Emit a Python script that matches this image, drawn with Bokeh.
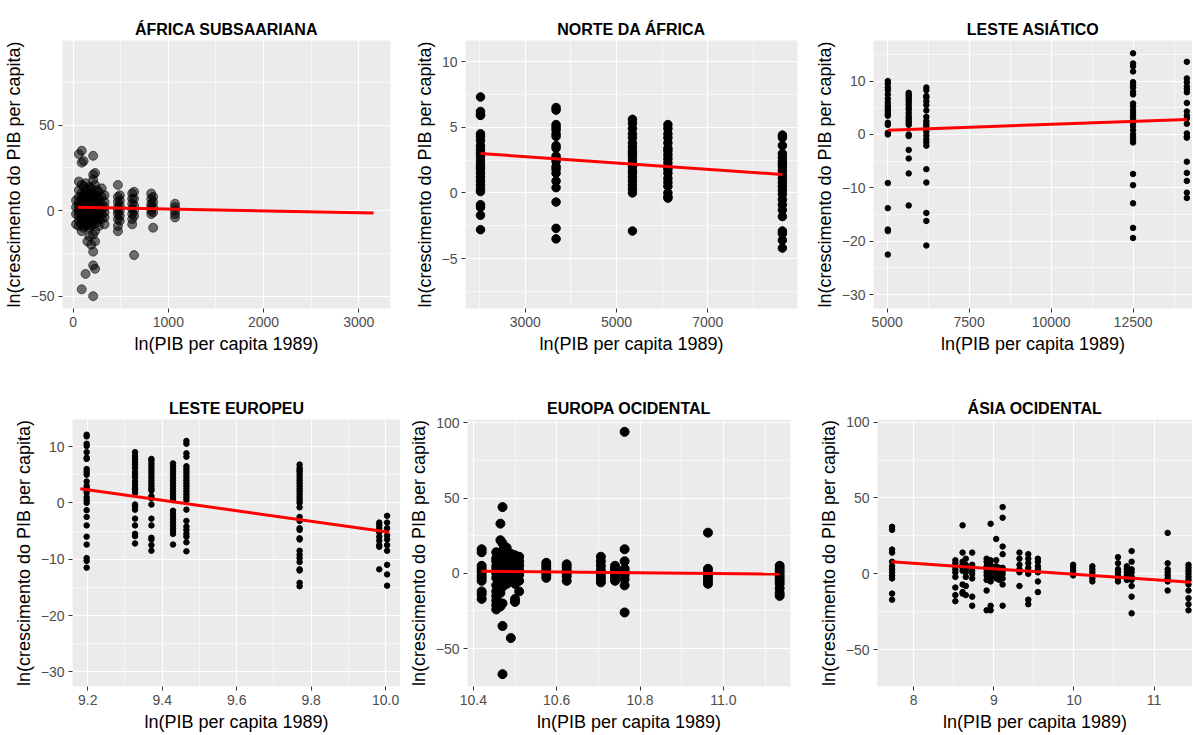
from bokeh.plotting import figure
from bokeh.layouts import column, row
from bokeh.models import FixedTicker, NumeralTickFormatter, Range1d, ColumnDataSource
from bokeh.embed import file_html
from bokeh.resources import INLINE

# ---------------- DATA ----------------
# Panel 1: Africa Subsaariana
afs_x = [30, 60, 90, 110, 130, 150, 170, 190, 210, 230, 250, 270, 300, 330, 470, 490, 620, 640, 820, 840, 1070]
afs_y = [
    [6, 2, -2, -8],
    [33, 17, 12, 8, 5, 3, 1, -1, -3, -6, -9],
    [35, 28, 15, 10, 7, 4, 2, 0, -2, -5, -8, -12, -46],
    [29, 14, 9, 6, 3, 1, -1, -4, -7, -10],
    [16, 11, 8, 5, 2, 0, -3, -6, -9, -37],
    [12, 9, 6, 3, 1, -2, -5, -8, -18],
    [14, 10, 7, 4, 1, -1, -4, -7, -10, -15],
    [13, 9, 6, 3, 0, -3, -6, -9, -20],
    [32, 21, 18, 10, 6, 3, 0, -3, -8, -14, -24, -32, -50],
    [22, 15, 9, 5, 2, -1, -5, -12, -18, -34],
    [12, 8, 5, 2, -1, -4, -7],
    [11, 7, 4, 1, -2, -5, -9],
    [13, 8, 4, 1, -2, -5],
    [9, 5, 2, -1, -4, -8],
    [15, 8, 5, 2, 0, -2, -5, -9, -12],
    [9, 6, 3, 0, -3, -6],
    [10, 7, 4, 1, -2, -5, -8],
    [11, 7, 3, 0, -3, -26],
    [10, 7, 4, 2, 0, -2],
    [8, 5, 2, -1, -10],
    [4, 2, 0, -2, -4],
]
afs_fit_x = [50, 3155]
afs_fit_y = [1.9, -1.4]

# Panel 2: Norte da Africa
naf_x = [2020, 3676, 5350, 6127, 8636]
naf_y = [
    [7.3, 6.2, 6.0, 5.9, 4.5, 4.3, 4.0, 3.6, 3.3, 3.0, 2.8, 2.5, 2.2, 2.0, 1.8, 1.5, 1.2, 0.9, 0.6, 0.3, 0.1, -0.9, -1.1, -1.7, -2.8],
    [6.5, 6.3, 5.2, 5.0, 4.8, 4.5, 4.3, 3.6, 3.4, 2.8, 2.6, 2.4, 2.0, 1.8, 1.5, 0.9, 0.4, -0.7, -2.7, -3.5],
    [5.6, 5.3, 4.9, 4.5, 4.2, 3.8, 3.5, 3.2, 3.0, 2.8, 2.5, 2.2, 2.0, 1.7, 1.5, 1.2, 0.9, 0.6, 0.3, 0.0, -2.9],
    [5.2, 4.9, 4.5, 4.2, 3.8, 3.4, 3.2, 2.9, 2.6, 2.3, 2.0, 1.8, 1.5, 1.1, 0.8, 0.5, 0.0, -0.3, -0.4],
    [4.4, 4.2, 3.6, 3.0, 2.7, 2.4, 2.2, 2.0, 1.7, 1.4, 1.1, 0.8, 0.5, 0.2, -0.1, -0.5, -0.9, -1.3, -1.8, -2.9, -3.1, -3.6, -4.2],
]
naf_fit_x = [2020, 8636]
naf_fit_y = [3.0, 1.4]

# Panel 3: Leste Asiatico
eas_x = [5020, 5657, 6195, 12500, 14140]
eas_y = [
    [10.0, 9.5, 8.8, 8.3, 7.5, 6.7, 6.0, 5.4, 5.0, 4.6, 4.2, 3.8, 3.5, 2.2, 1.8, 0.3, 0.0, -9.1, -13.8, -17.8, -18.1, -22.5],
    [7.8, 7.5, 7.2, 6.8, 6.4, 6.0, 5.5, 5.0, 4.6, 4.0, 3.4, 3.0, 2.6, 2.2, 1.8, 0.0, -0.3, -2.9, -4.5, -7.3, -13.3],
    [8.8, 8.3, 7.2, 6.9, 6.2, 5.5, 4.5, 3.3, 2.5, 2.0, 1.6, 1.0, 0.5, -0.2, -0.9, -1.5, -2.1, -6.5, -9.0, -14.7, -16.2, -20.8],
    [15.2, 13.3, 12.8, 11.8, 9.8, 9.3, 8.8, 8.0, 7.5, 5.8, 5.2, 4.5, 4.0, 3.5, 3.0, 2.2, 1.6, 0.8, 0.0, -0.5, -1.0, -1.5, -7.4, -9.5, -12.9, -17.5, -19.4],
    [13.6, 10.5, 9.8, 9.0, 8.5, 7.9, 5.9, 4.3, 3.5, 3.0, 2.0, 0.2, -0.4, -0.6, -5.1, -7.2, -8.7, -10.9, -11.9],
]
eas_fit_x = [5020, 14140]
eas_fit_y = [0.8, 2.8]

# Panel 4: Leste Europeu
eeu_x = [9.197, 9.327, 9.371, 9.429, 9.465, 9.769, 9.983, 10.004]
eeu_y = [
    [12.1, 11.8, 10.5, 10.1, 9.0, 8.0, 7.8, 6.0, 5.5, 5.0, 3.8, 3.0, 2.6, 2.2, 1.8, 1.0, 0.5, 0.0, -1.3, -2.5, -4.0, -6.0, -7.4, -9.8, -10.3, -11.5],
    [9.0, 8.3, 7.8, 7.2, 6.8, 6.2, 5.5, 5.0, 4.5, 3.8, 3.2, 2.6, 2.3, 1.8, -0.3, -0.7, -1.2, -2.8, -4.0, -5.5, -5.9, -7.2],
    [7.8, 7.5, 7.0, 6.5, 6.0, 5.5, 5.0, 4.5, 4.0, 3.5, 3.0, 2.5, 2.2, 1.2, 0.8, -0.3, -2.8, -4.0, -6.2, -6.5, -7.5, -8.5],
    [7.0, 6.5, 6.0, 5.5, 5.0, 4.5, 4.0, 3.5, 3.0, 2.5, 2.0, 1.5, 1.0, 0.5, -1.4, -2.0, -2.5, -3.0, -3.5, -4.0, -4.5, -5.0, -5.5, -7.4],
    [11.0, 10.5, 8.8, 8.2, 6.5, 6.0, 5.5, 5.0, 4.5, 4.0, 3.5, 3.0, 2.5, 2.0, 1.5, 1.0, 0.5, -1.2, -3.2, -4.2, -4.8, -5.5, -6.0, -7.0, -8.6],
    [6.8, 6.2, 5.8, 5.5, 5.0, 4.5, 4.0, 3.5, 3.0, 2.5, 2.0, 1.5, 1.0, 0.5, 0.0, -0.8, -2.5, -3.2, -4.5, -4.8, -6.3, -6.5, -8.5, -9.2, -9.8, -10.5, -11.8, -12.0, -14.2, -14.8],
    [-3.5, -4.0, -4.5, -5.2, -6.0, -6.7, -7.5, -7.8, -11.8],
    [-2.3, -3.5, -4.5, -5.8, -6.5, -7.5, -8.5, -11.0, -12.7, -14.7],
]
eeu_fit_x = [9.18, 10.01]
eeu_fit_y = [2.5, -5.2]

# Panel 5: Europa Ocidental
weu_x = [10.42, 10.455, 10.465, 10.47, 10.48, 10.49, 10.50, 10.51, 10.575, 10.624, 10.706, 10.74, 10.763, 10.963, 11.135]
weu_y = [
    [16, 14, 5, 3, 1, -1, -3, -5, -12, -14, -17],
    [14, 10, 8, 5, 3, 0, -3, -8, -12, -15, -18, -21, -24],
    [33, 22, 12, 9, 6, 2, -1, -5, -10, -13, -20, -22],
    [44, 20, 15, 7, 4, 1, -4, -9, -20, -35, -67],
    [17, 12, 8, 5, 2, 0, -3, -7],
    [13, 10, 6, 3, 0, -4, -43],
    [12, 9, 6, 3, 0, -3, -7, -17, -19],
    [11, 8, 5, 2, -1, -5, -12],
    [7, 5, 3, 1, -1, -3],
    [6, 4, 2, 0, -2, -5],
    [11, 8, 5, 2, 0, -2, -4, -6],
    [5, 3, 1, -1, -3, -5],
    [94, 16, 8, 3, 1, -1, -4, -8, -26],
    [27, 3, 1, -1, -3, -5, -7],
    [5, 3, 1, -1, -3, -5, -7, -10, -13, -15],
]
weu_fit_x = [10.42, 11.135]
weu_fit_y = [1.3, -0.5]

# Panel 6: Asia Ocidental
was_x = [7.73, 8.52, 8.61, 8.65, 8.73, 8.91, 8.96, 9.03, 9.07, 9.11, 9.32, 9.43, 9.55, 9.99, 10.23, 10.55, 10.66, 10.72, 11.17, 11.43]
was_y = [
    [31, 29, 16, 14, 8, 5, 3, 1, -1, -3, -13, -17],
    [9, 7, 5, 3, 1, -2, -9, -14, -18],
    [32, 14, 8, 6, 4, 2, -7, -12, -13],
    [10, 6, 3, 1, -2, -8, -14],
    [14, 6, 4, 2, 0, -3, -15, -21],
    [10, 8, 5, 3, 1, -1, -4, -11, -24],
    [33, 9, 6, 3, 1, -2, -5, -21, -24],
    [23, 9, 5, 3, 1, -1, -3],
    [4, 2, 0, -2, -3, -4],
    [44, 37, 18, 13, 4, 2, 0, -3, -7, -21],
    [14, 10, 6, 3, 1, -8],
    [13, 10, 7, 4, 2, 0, -17, -20],
    [10, 8, 5, 3, 1, -5, -12],
    [6, 4, 2, 0, -1],
    [5, 3, 1, -1, -3, -5],
    [11, 7, 3, 1, -1, -3, -5],
    [5, 3, 1, -1, -3, -4],
    [15, 8, 3, 1, -2, -4, -8, -15, -26],
    [27, 7, 3, 1, -1, -3, -5, -11],
    [6, 4, 2, 0, -2, -4, -7, -11, -16, -20, -24],
]
was_fit_x = [7.72, 11.46]
was_fit_y = [8.0, -5.5]

XLAB = "ln(PIB per capita 1989)"
YLAB = "ln(crescimento do PIB per capita)"
FONT = "Liberation Sans"


def panel(title, gx, gy, fx, fy, xr, yr, xt, xmt, yt, ymt, w, h, bl, br, bt, bb,
          size, alpha, fmt=None):
    xs, ys = [], []
    for xv, yl in zip(gx, gy):
        for yv in yl:
            xs.append(xv)
            ys.append(yv)
    p = figure(width=w, height=h, output_backend="svg", toolbar_location=None,
               x_range=Range1d(*xr), y_range=Range1d(*yr),
               min_border_left=bl, min_border_right=br, min_border_top=bt, min_border_bottom=bb,
               title=title)
    p.background_fill_color = "#EBEBEB"
    p.border_fill_color = "white"
    p.outline_line_color = None
    p.title.text_font = FONT
    p.title.text_font_size = "16px"
    p.title.text_font_style = "bold"
    p.title.align = "center"
    p.title.text_color = "black"
    p.title.standoff = 6
    p.xaxis.ticker = FixedTicker(ticks=xt, minor_ticks=xmt)
    p.yaxis.ticker = FixedTicker(ticks=yt, minor_ticks=ymt)
    if fmt:
        p.xaxis.formatter = NumeralTickFormatter(format=fmt)
    for ax in (p.xaxis, p.yaxis):
        ax.axis_line_color = None
        ax.major_tick_line_color = "#333333"
        ax.major_tick_out = 4
        ax.major_tick_in = 0
        ax.minor_tick_out = 0
        ax.minor_tick_in = 0
        ax.major_label_text_font = FONT
        ax.major_label_text_font_size = "14px"
        ax.major_label_text_color = "#4D4D4D"
        ax.major_label_standoff = 4
        ax.axis_label_text_font = FONT
        ax.axis_label_text_font_size = "18px"
        ax.axis_label_text_font_style = "normal"
        ax.axis_label_text_color = "black"
        ax.axis_label_standoff = 4
    p.xaxis.axis_label = XLAB
    p.yaxis.axis_label = YLAB
    for g in (p.xgrid, p.ygrid):
        g.grid_line_color = "white"
        g.grid_line_width = 1.2
        g.minor_grid_line_color = "white"
        g.minor_grid_line_width = 0.6
    src = ColumnDataSource(dict(x=xs, y=ys))
    p.scatter("x", "y", source=src, size=size, fill_color="black", line_color="black",
              fill_alpha=alpha, line_alpha=alpha)
    p.line(fx, fy, line_color="#FF0000", line_width=3)
    return p


p1 = panel("ÁFRICA SUBSAARIANA", afs_x, afs_y, afs_fit_x, afs_fit_y,
           (-112, 3333), (-57.2, 99.4), [0, 1000, 2000, 3000], [500, 1500, 2500],
           [-50, 0, 50], [-25, 25, 75], 400, 375, 61, 10, 35, 67, 9, 0.55)
p2 = panel("NORTE DA ÁFRICA", naf_x, naf_y, naf_fit_x, naf_fit_y,
           (1691, 8967), (-8.8, 11.6), [3000, 5000, 7000], [2000, 4000, 6000, 8000],
           [-5, 0, 5, 10], [-7.5, -2.5, 2.5, 7.5], 400, 375, 65, 3, 38, 65, 8.5, 1.0)
p3 = panel("LESTE ASIÁTICO", eas_x, eas_y, eas_fit_x, eas_fit_y,
           (4583, 14313), (-32.6, 17.6), [5000, 7500, 10000, 12500], [6250, 8750, 11250, 13750],
           [-30, -20, -10, 0, 10], [-25, -15, -5, 5, 15], 392, 375, 73, 0, 40, 62, 5.5, 1.0)
p4 = panel("LESTE EUROPEU", eeu_x, eeu_y, eeu_fit_x, eeu_fit_y,
           (9.159, 10.04), (-32.6, 14.8), [9.2, 9.4, 9.6, 9.8, 10.0], [9.3, 9.5, 9.7, 9.9],
           [-30, -20, -10, 0, 10], [-25, -15, -5, 5], 400, 359, 72, 0, 42, 46, 5.5, 1.0, "0.0")
p5 = panel("EUROPA OCIDENTAL", weu_x, weu_y, weu_fit_x, weu_fit_y,
           (10.386, 11.161), (-75.2, 102.2), [10.4, 10.6, 10.8, 11.0], [10.5, 10.7, 10.9, 11.1],
           [-50, 0, 50, 100], [-25, 25, 75], 400, 359, 67, 10, 41, 46, 9, 1.0, "0.0")
p6 = panel("ÁSIA OCIDENTAL", was_x, was_y, was_fit_x, was_fit_y,
           (7.548, 11.48), (-74.2, 101.7), [8, 9, 10, 11], [8.5, 9.5, 10.5],
           [-50, 0, 50, 100], [-25, 25, 75], 392, 359, 77, 0, 44, 45, 5.5, 1.0)

layout = column(row(p1, p2, p3), row(p4, p5, p6))
open("out.html", "w").write(file_html(layout, INLINE))
